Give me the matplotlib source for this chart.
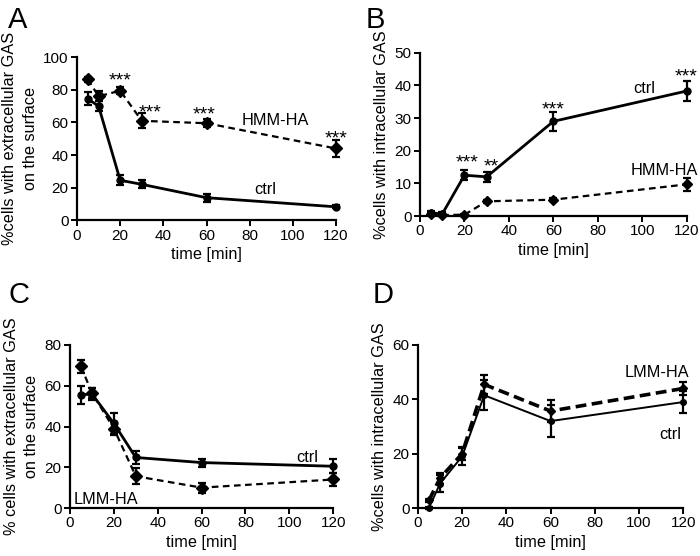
import matplotlib
matplotlib.use("Agg")
import matplotlib.pyplot as plt

plt.rcParams['font.family'] = ['Liberation Sans', 'DejaVu Sans']

time = [5, 10, 20, 30, 60, 120]

# Panel A
a_ctrl = [74.5, 70, 24.5, 22, 13.8, 8.2]
a_ctrl_err = [4, 3, 3, 2.5, 2.5, 1]
a_hmm = [86.5, 76, 79.5, 61, 59.5, 44]
a_hmm_err = [1.5, 3, 2, 4.5, 2.5, 5]
a_stars_x = [20, 34, 59, 120]
a_stars_y = [88, 68, 67, 52]
a_stars = ["***", "***", "***", "***"]

# Panel B
b_ctrl = [1.0, 0.6, 12.5, 12, 29, 38.3]
b_ctrl_err = [0.5, 0.5, 1.5, 1.5, 3, 3]
b_hmm = [0.5, 0.3, 0.4, 4.5, 5, 9.7]
b_hmm_err = [0.3, 0.3, 0.3, 0.5, 0.5, 2]
b_stars_x = [21, 32, 60, 119.6]
b_stars_y = [17.5, 16.2, 33.7, 43.8]
b_stars = ["***", "**", "***", "***"]

# Panel C
c_ctrl = [55.5, 56, 41.5, 24.8, 22.3, 20.5]
c_ctrl_err = [4.5, 3, 5, 3, 2, 3.5]
c_lmm = [69.5, 56.5, 39, 15.6, 10, 14]
c_lmm_err = [3, 2.5, 3, 4, 2.5, 3]

# Panel D
d_ctrl = [0, 9, 19, 41.5, 32, 39]
d_ctrl_err = [0.5, 3, 3, 5.5, 6, 4]
d_lmm = [2.8, 11, 20, 45.5, 35.7, 44]
d_lmm_err = [0.5, 2, 2.5, 3.5, 4, 2.5]

fig = plt.figure(figsize=(7, 5.56), dpi=100)

FS = 11.7
TS = 11
SS = 14

def style(ax, ymax, ystep, ylabel):
    ax.set_xlim(0, 120)
    ax.set_ylim(0, ymax)
    ax.set_xticks(range(0, 121, 20))
    ax.set_yticks(range(0, ymax + 1, ystep))
    for s in ['top', 'right']:
        ax.spines[s].set_visible(False)
    for s in ['left', 'bottom']:
        ax.spines[s].set_linewidth(1.6)
    ax.tick_params(direction='out', length=4, width=1.4, labelsize=TS, pad=2)
    ax.set_xlabel("time [min]", fontsize=FS, labelpad=3)
    ax.set_ylabel(ylabel, fontsize=FS, labelpad=4, linespacing=1.45)

def series(ax, x, y, e, ls, marker, lw, ms):
    ax.errorbar(x, y, yerr=e, color='black', ls=ls, lw=lw, marker=marker,
                ms=ms, capsize=3, elinewidth=1.6, capthick=1.6, clip_on=False,
                zorder=3)

def stars(ax, xs, ys, labels):
    for x, y, s in zip(xs, ys, labels):
        ax.annotate(s, (x, y), xytext=(0, -9), textcoords='offset points',
                    ha='center', va='bottom', fontsize=SS, annotation_clip=False)

# A
axA = fig.add_axes([0.110, 0.604, 0.370, 0.293])
series(axA, time, a_ctrl, a_ctrl_err, '-', 'o', 2.0, 5)
series(axA, time, a_hmm, a_hmm_err, (0, (3, 2)), 'D', 1.6, 6)
style(axA, 100, 20, "%cells with extracellular GAS\non the surface")
stars(axA, a_stars_x, a_stars_y, a_stars)
axA.text(92, 61, "HMM-HA", ha='center', va='center', fontsize=FS)
axA.text(87, 19, "ctrl", ha='center', va='center', fontsize=FS)
fig.text(0.012, 0.99, "A", fontsize=21, va='top', ha='left')

# B
axB = fig.add_axes([0.600, 0.6115, 0.381, 0.2935])
series(axB, time, b_ctrl, b_ctrl_err, '-', 'o', 2.0, 5)
series(axB, time, b_hmm, b_hmm_err, (0, (3, 2)), 'D', 1.6, 5)
style(axB, 50, 10, "%cells with intracellular GAS")
stars(axB, b_stars_x, b_stars_y, b_stars)
axB.text(101, 39, "ctrl", ha='center', va='center', fontsize=FS)
axB.text(110, 14, "HMM-HA", ha='center', va='center', fontsize=FS)
fig.text(0.522, 0.99, "B", fontsize=21, va='top', ha='left')

# C
axC = fig.add_axes([0.100, 0.0863, 0.376, 0.2932])
series(axC, time, c_ctrl, c_ctrl_err, '-', 'o', 2.0, 5)
series(axC, time, c_lmm, c_lmm_err, (0, (3, 2)), 'D', 1.6, 6)
style(axC, 80, 20, "% cells with extracellular GAS\non the surface")
axC.text(108, 25, "ctrl", ha='center', va='center', fontsize=FS)
axC.text(1.5, 4, "LMM-HA", ha='left', va='center', fontsize=FS)
fig.text(0.012, 0.495, "C", fontsize=21, va='top', ha='left')

# D
axD = fig.add_axes([0.597, 0.0863, 0.379, 0.2932])
series(axD, time, d_ctrl, d_ctrl_err, '-', 'o', 1.4, 4)
series(axD, time, d_lmm, d_lmm_err, (0, (3, 1.5)), 'D', 2.6, 4)
style(axD, 60, 20, "%cells with intracellular GAS")
axD.text(108, 50, "LMM-HA", ha='center', va='center', fontsize=FS)
axD.text(114, 27, "ctrl", ha='center', va='center', fontsize=FS)
fig.text(0.532, 0.495, "D", fontsize=21, va='top', ha='left')

fig.savefig("out.png", dpi=100)
